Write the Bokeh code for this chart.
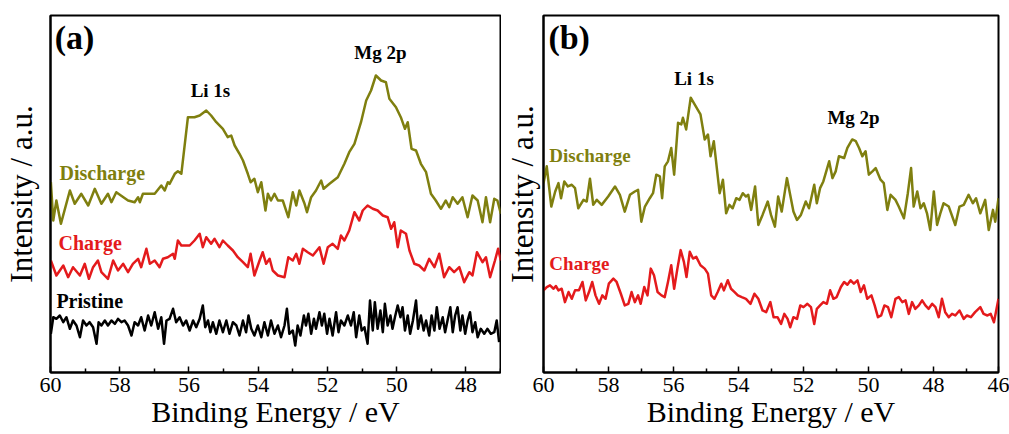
from bokeh.plotting import figure
from bokeh.models import Range1d, FixedTicker
from bokeh.layouts import row
from bokeh.core.properties import value
from bokeh.embed import file_html
from bokeh.resources import INLINE

# ---------------- data (binding energy eV, intensity a.u.) ----------------
a_discharge = [(59.99,190.3),(59.92,152.0),(59.83,172.0),(59.70,148.7),(59.44,182.0),(59.30,168.7),(59.11,178.7),(58.91,167.0),(58.72,183.7),(58.53,168.7),(58.34,178.7),(58.24,170.3),(58.10,180.3),(57.76,172.0),(57.57,170.3),(57.47,175.3),(57.42,170.3),(57.33,178.7),(56.99,178.7),(56.80,187.0),(56.70,182.0),(56.61,190.3),(56.56,188.7),(56.41,198.7),(56.32,201.3),(56.22,198.7),(56.03,255.3),(55.84,255.3),(55.69,257.0),(55.50,262.0),(55.36,257.0),(55.21,250.3),(55.02,243.7),(54.88,235.3),(54.78,237.0),(54.68,227.0),(54.54,218.7),(54.44,212.0),(54.30,198.7),(54.22,190.3),(54.11,193.7),(54.01,180.3),(53.91,190.3),(53.79,162.0),(53.72,178.7),(53.63,172.0),(53.53,178.7),(53.43,172.0),(53.29,172.0),(53.13,155.3),(53.00,180.3),(52.90,167.0),(52.81,182.0),(52.66,168.7),(52.59,160.3),(52.47,175.3),(52.33,182.0),(52.18,192.0),(52.11,183.7),(51.94,188.7),(51.70,195.3),(51.51,208.7),(51.37,220.3),(51.22,228.7),(51.03,250.3),(50.88,272.0),(50.74,282.0),(50.60,297.0),(50.45,292.0),(50.31,290.3),(50.21,273.7),(50.02,265.3),(49.88,255.3),(49.76,243.7),(49.68,250.3),(49.57,223.7),(49.44,222.0),(49.30,208.7),(49.15,200.3),(49.01,178.7),(48.87,172.0),(48.72,163.7),(48.58,172.0),(48.48,165.3),(48.38,175.3),(48.24,168.7),(48.10,175.3),(47.95,155.3),(47.81,177.0),(47.66,172.0),(47.52,150.3),(47.42,175.3),(47.30,150.3),(47.18,173.7),(47.09,172.0),(46.99,158.7)]

a_charge = [(59.99,112.0),(59.83,97.0),(59.63,107.0),(59.49,95.3),(59.35,105.3),(59.15,97.0),(59.01,108.7),(58.89,93.7),(58.77,105.3),(58.63,112.0),(58.53,100.3),(58.34,93.7),(58.19,112.0),(58.05,102.0),(57.90,108.7),(57.76,100.3),(57.62,108.7),(57.47,113.7),(57.38,105.3),(57.23,123.7),(57.13,108.7),(56.99,112.0),(56.85,105.3),(56.75,113.7),(56.61,115.3),(56.46,118.7),(56.41,113.7),(56.32,132.0),(56.22,127.0),(56.13,127.0),(55.98,127.0),(55.84,132.0),(55.69,138.7),(55.60,125.3),(55.50,135.3),(55.36,128.7),(55.26,133.7),(55.12,125.3),(55.02,132.0),(54.88,127.0),(54.73,122.0),(54.59,115.3),(54.44,110.3),(54.30,105.3),(54.22,118.7),(54.11,97.0),(53.96,112.0),(53.87,120.3),(53.77,108.7),(53.67,113.7),(53.58,102.0),(53.43,97.0),(53.24,95.3),(53.13,115.3),(53.00,112.0),(52.90,118.7),(52.81,108.7),(52.71,123.7),(52.57,120.3),(52.42,117.0),(52.23,125.3),(52.11,108.7),(51.99,125.3),(51.85,128.7),(51.70,123.7),(51.61,137.0),(51.51,132.0),(51.37,142.0),(51.22,160.3),(51.08,152.0),(50.98,162.0),(50.84,167.0),(50.69,163.7),(50.55,162.0),(50.40,157.0),(50.26,155.3),(50.16,143.7),(50.07,150.3),(49.97,125.3),(49.88,142.0),(49.73,138.7),(49.63,122.0),(49.49,108.7),(49.35,107.0),(49.20,102.0),(49.06,113.7),(48.91,105.3),(48.77,118.7),(48.63,95.3),(48.48,105.3),(48.34,100.3),(48.19,105.3),(48.05,90.3),(47.90,100.3),(47.81,97.0),(47.68,120.3),(47.52,110.3),(47.42,115.3),(47.30,95.3),(47.16,112.0),(47.07,123.7),(46.99,112.0)]

a_pristine = [(59.99,38.7),(59.92,55.3),(59.83,53.7),(59.73,57.0),(59.63,50.3),(59.54,55.3),(59.44,43.7),(59.35,52.0),(59.25,47.0),(59.15,35.3),(59.06,52.0),(58.96,47.0),(58.87,50.3),(58.77,45.3),(58.67,28.7),(58.61,50.3),(58.53,47.0),(58.43,52.0),(58.34,47.0),(58.24,52.0),(58.14,48.7),(58.05,53.7),(57.95,50.3),(57.86,52.0),(57.76,47.0),(57.66,37.0),(57.57,50.3),(57.47,47.0),(57.38,55.3),(57.28,42.0),(57.18,57.0),(57.09,47.0),(56.99,60.3),(56.89,43.7),(56.80,55.3),(56.72,28.7),(56.65,52.0),(56.56,53.7),(56.46,63.7),(56.37,50.3),(56.27,55.3),(56.17,47.0),(56.08,52.0),(55.98,42.0),(55.88,52.0),(55.79,45.3),(55.69,53.7),(55.60,67.0),(55.53,45.3),(55.45,52.0),(55.38,40.3),(55.31,50.3),(55.21,38.7),(55.12,52.0),(55.02,40.3),(54.92,52.0),(54.83,38.7),(54.73,50.3),(54.63,47.0),(54.54,37.0),(54.44,52.0),(54.35,40.3),(54.28,57.0),(54.20,43.7),(54.11,37.0),(54.01,47.0),(53.91,35.3),(53.82,50.3),(53.72,37.0),(53.63,52.0),(53.53,38.7),(53.43,47.0),(53.34,35.3),(53.24,47.0),(53.17,63.7),(53.10,38.7),(53.00,42.0),(52.93,27.0),(52.86,47.0),(52.78,37.0),(52.68,57.0),(52.62,47.0),(52.55,58.7),(52.47,38.7),(52.39,53.7),(52.33,43.7),(52.23,60.3),(52.16,47.0),(52.09,58.7),(52.01,38.7),(51.94,53.7),(51.85,37.0),(51.75,60.3),(51.68,40.3),(51.61,52.0),(51.51,47.0),(51.41,57.0),(51.32,47.0),(51.24,60.3),(51.17,35.3),(51.08,57.0),(51.01,42.0),(50.93,45.3),(50.84,28.7),(50.77,72.0),(50.69,42.0),(50.63,70.3),(50.55,43.7),(50.47,62.0),(50.40,40.3),(50.34,68.7),(50.26,47.0),(50.18,57.0),(50.12,43.7),(50.05,55.3),(49.97,67.0),(49.89,55.3),(49.83,65.3),(49.76,42.0),(49.68,57.0),(49.61,38.7),(49.53,52.0),(49.44,72.0),(49.38,43.7),(49.30,57.0),(49.22,42.0),(49.15,52.0),(49.06,37.0),(48.99,57.0),(48.91,42.0),(48.84,65.3),(48.76,43.7),(48.67,55.3),(48.60,40.3),(48.53,52.0),(48.45,65.3),(48.38,40.3),(48.31,57.0),(48.24,65.3),(48.16,42.0),(48.10,57.0),(48.02,38.7),(47.95,52.0),(47.88,60.3),(47.81,40.3),(47.73,50.3),(47.66,35.3),(47.57,43.7),(47.47,38.7),(47.38,43.7),(47.28,38.7),(47.18,40.3),(47.11,52.0),(47.04,30.3)]

b_discharge = [(60.00,188.3),(59.90,205.0),(59.76,165.0),(59.64,180.0),(59.54,188.3),(59.46,173.3),(59.36,190.0),(59.25,185.0),(59.13,186.7),(59.03,183.3),(58.93,163.3),(58.77,171.7),(58.67,170.0),(58.57,192.7),(58.47,166.7),(58.36,171.7),(58.21,166.7),(58.01,175.0),(57.80,185.0),(57.65,176.7),(57.50,160.0),(57.34,176.7),(57.19,180.0),(57.09,181.7),(56.99,150.0),(56.88,165.0),(56.73,173.3),(56.63,178.3),(56.53,196.7),(56.42,195.0),(56.35,173.3),(56.27,205.0),(56.17,210.0),(56.07,223.3),(55.98,196.7),(55.86,248.3),(55.76,246.7),(55.71,253.3),(55.61,241.7),(55.47,273.3),(55.35,266.7),(55.17,256.7),(55.04,231.7),(54.94,236.7),(54.86,215.0),(54.76,230.0),(54.58,178.3),(54.48,191.7),(54.38,158.3),(54.28,166.7),(54.18,163.3),(54.07,173.3),(53.97,171.7),(53.87,178.3),(53.77,175.0),(53.70,176.7),(53.61,161.7),(53.49,185.0),(53.39,146.7),(53.26,156.7),(53.10,170.0),(53.00,156.7),(52.88,145.0),(52.78,175.0),(52.67,160.0),(52.51,193.3),(52.41,176.7),(52.31,160.0),(52.20,151.7),(52.08,156.7),(51.93,170.0),(51.83,163.3),(51.67,186.7),(51.59,168.3),(51.49,183.3),(51.39,190.0),(51.21,210.0),(51.11,193.3),(51.01,200.0),(50.91,215.0),(50.75,213.3),(50.65,223.3),(50.50,231.7),(50.39,230.0),(50.29,223.3),(50.19,215.0),(50.09,220.0),(49.99,196.7),(49.88,200.0),(49.78,203.3),(49.63,191.7),(49.53,188.3),(49.42,161.7),(49.32,176.7),(49.17,171.7),(49.07,165.0),(48.91,153.3),(48.79,178.3),(48.69,203.3),(48.61,165.0),(48.50,180.0),(48.40,163.3),(48.30,168.3),(48.20,158.3),(48.10,141.7),(47.99,180.0),(47.89,146.7),(47.79,158.3),(47.69,168.3),(47.53,165.0),(47.33,146.7),(47.20,165.0),(47.07,166.7),(46.92,176.7),(46.79,168.3),(46.69,173.3),(46.56,158.3),(46.41,171.7),(46.30,141.7),(46.17,161.7),(46.10,150.0),(46.00,173.3)]

b_charge = [(60.00,81.7),(59.90,85.0),(59.80,86.7),(59.69,83.3),(59.62,86.0),(59.54,81.7),(59.44,83.3),(59.34,70.0),(59.23,80.0),(59.13,73.3),(59.03,81.7),(58.91,81.7),(58.80,90.0),(58.70,71.7),(58.60,80.0),(58.50,90.0),(58.40,76.7),(58.29,68.3),(58.19,76.7),(58.09,73.3),(57.99,88.3),(57.85,93.3),(57.75,90.0),(57.62,78.3),(57.50,66.7),(57.39,68.3),(57.29,80.0),(57.19,70.0),(57.09,76.7),(57.01,68.3),(56.90,85.0),(56.80,76.7),(56.70,103.3),(56.60,96.7),(56.49,80.0),(56.37,76.7),(56.27,75.0),(56.17,90.0),(56.07,106.7),(55.98,83.3),(55.88,103.3),(55.78,121.7),(55.68,110.0),(55.60,95.0),(55.50,120.0),(55.40,113.3),(55.30,115.0),(55.17,106.7),(55.04,103.3),(54.94,98.3),(54.84,76.7),(54.74,73.3),(54.64,80.0),(54.53,88.3),(54.45,81.7),(54.33,91.7),(54.23,83.3),(54.12,80.0),(54.02,76.7),(53.90,75.0),(53.77,73.3),(53.63,68.3),(53.51,78.3),(53.39,73.3),(53.26,61.7),(53.15,60.0),(53.02,70.0),(52.92,55.0),(52.80,55.0),(52.69,48.3),(52.59,58.3),(52.49,53.3),(52.41,45.0),(52.31,55.0),(52.20,53.3),(52.10,66.7),(52.00,65.0),(51.88,68.3),(51.77,65.0),(51.67,48.3),(51.59,63.3),(51.49,66.7),(51.39,70.0),(51.28,68.3),(51.18,81.7),(51.08,73.3),(50.98,75.0),(50.85,85.0),(50.75,90.0),(50.65,87.3),(50.55,91.7),(50.45,88.3),(50.34,91.7),(50.24,80.0),(50.14,86.7),(50.04,73.3),(49.91,76.7),(49.81,66.7),(49.71,55.0),(49.61,56.7),(49.51,66.7),(49.40,65.0),(49.30,55.0),(49.17,73.3),(49.07,75.0),(48.96,70.0),(48.86,71.7),(48.76,58.3),(48.66,70.0),(48.56,63.3),(48.45,66.7),(48.35,71.7),(48.25,66.7),(48.15,63.3),(48.04,68.3),(47.94,65.0),(47.84,55.0),(47.74,73.3),(47.64,60.0),(47.53,55.0),(47.43,58.3),(47.33,56.7),(47.20,61.7),(47.07,53.3),(46.97,56.7),(46.85,55.0),(46.72,60.0),(46.56,65.0),(46.46,58.3),(46.34,56.7),(46.24,58.3),(46.14,50.0),(46.07,61.7),(46.00,73.3)]

a_major_ticks = [60, 58, 56, 54, 52, 50, 48]
a_minor_ticks = [59, 57, 55, 53, 51, 49, 47]
b_major_ticks = [60, 58, 56, 54, 52, 50, 48, 46]
b_minor_ticks = [59, 57, 55, 53, 51, 49, 47]

OLIVE = "#7f7f0f"
RED = "#e41a1c"
BLACK = "#000000"
SERIF = "Liberation Serif"


def split(pairs):
    return [p[0] for p in pairs], [p[1] for p in pairs]


def make_panel(width, xr, yr, major, minor, bl, br, ylabel_standoff):
    p = figure(width=width, height=434, x_range=Range1d(*xr), y_range=Range1d(*yr),
               output_backend="svg", toolbar_location=None,
               min_border_left=bl, min_border_right=br, min_border_top=15, min_border_bottom=62)
    p.xgrid.visible = False
    p.ygrid.visible = False
    p.outline_line_color = "black"
    p.outline_line_width = 2
    p.outline_line_alpha = 1.0
    p.background_fill_color = "white"
    p.border_fill_color = "white"

    xa = p.xaxis[0]
    xa.ticker = FixedTicker(ticks=major, minor_ticks=minor)
    xa.major_tick_in = 6
    xa.major_tick_out = 0
    xa.minor_tick_in = 4
    xa.minor_tick_out = 0
    xa.major_tick_line_width = 1.5
    xa.minor_tick_line_width = 1.5
    xa.major_tick_line_color = "black"
    xa.minor_tick_line_color = "black"
    xa.axis_line_width = 2
    xa.axis_line_color = "black"
    xa.major_label_text_font = SERIF
    xa.major_label_text_font_size = "22px"
    xa.major_label_text_color = "black"
    xa.major_label_standoff = 5
    xa.axis_label = "Binding Energy / eV"
    xa.axis_label_text_font = SERIF
    xa.axis_label_text_font_size = "30px"
    xa.axis_label_text_font_style = "normal"
    xa.axis_label_text_color = "black"
    xa.axis_label_standoff = 0

    ya = p.yaxis[0]
    ya.ticker = FixedTicker(ticks=[])
    ya.major_tick_in = 0
    ya.major_tick_out = 0
    ya.minor_tick_in = 0
    ya.minor_tick_out = 0
    ya.axis_line_width = 2
    ya.axis_line_color = "black"
    ya.axis_label = "Intensity / a.u."
    ya.axis_label_text_font = SERIF
    ya.axis_label_text_font_size = "31px"
    ya.axis_label_text_font_style = "normal"
    ya.axis_label_text_color = "black"
    ya.axis_label_standoff = ylabel_standoff
    return p


def add_text(p, x, y, t, color, size, align="center"):
    p.text(x=[x], y=[y], text=[t], text_color=color, text_font=value(SERIF),
           text_font_size=size, text_font_style="bold", text_align=align,
           text_baseline="middle")


# ---------------- panel (a) ----------------
pa = make_panel(501, (60, 47), (0, 357), a_major_ticks, a_minor_ticks, 49, 1, 12)
for data, col in [(a_discharge, OLIVE), (a_charge, RED), (a_pristine, BLACK)]:
    xs, ys = split(data)
    pa.line(xs, ys, line_color=col, line_width=2.5, line_join="round")

add_text(pa, 59.88, 335, "(a)", BLACK, "34px", "left")
add_text(pa, 55.38, 282, "Li 1s", BLACK, "19px")
add_text(pa, 50.47, 320, "Mg 2p", BLACK, "19px")
add_text(pa, 59.74, 200, "Discharge", OLIVE, "20px", "left")
add_text(pa, 59.77, 130, "Charge", RED, "20px", "left")
add_text(pa, 59.83, 72, "Pristine", BLACK, "20px", "left")

# ---------------- panel (b) ----------------
pb = make_panel(508, (60, 46), (0, 355), b_major_ticks, b_minor_ticks, 41, 11, 4)
for data, col in [(b_discharge, OLIVE), (b_charge, RED)]:
    xs, ys = split(data)
    pb.line(xs, ys, line_color=col, line_width=2.5, line_join="round")

add_text(pb, 59.85, 333, "(b)", BLACK, "34px", "left")
add_text(pb, 55.37, 292, "Li 1s", BLACK, "19px")
add_text(pb, 50.46, 254, "Mg 2p", BLACK, "19px")
add_text(pb, 59.82, 216, "Discharge", OLIVE, "19px", "left")
add_text(pb, 59.82, 108, "Charge", RED, "19px", "left")

layout = row(pa, pb)
open("out.html", "w").write(file_html(layout, INLINE))
